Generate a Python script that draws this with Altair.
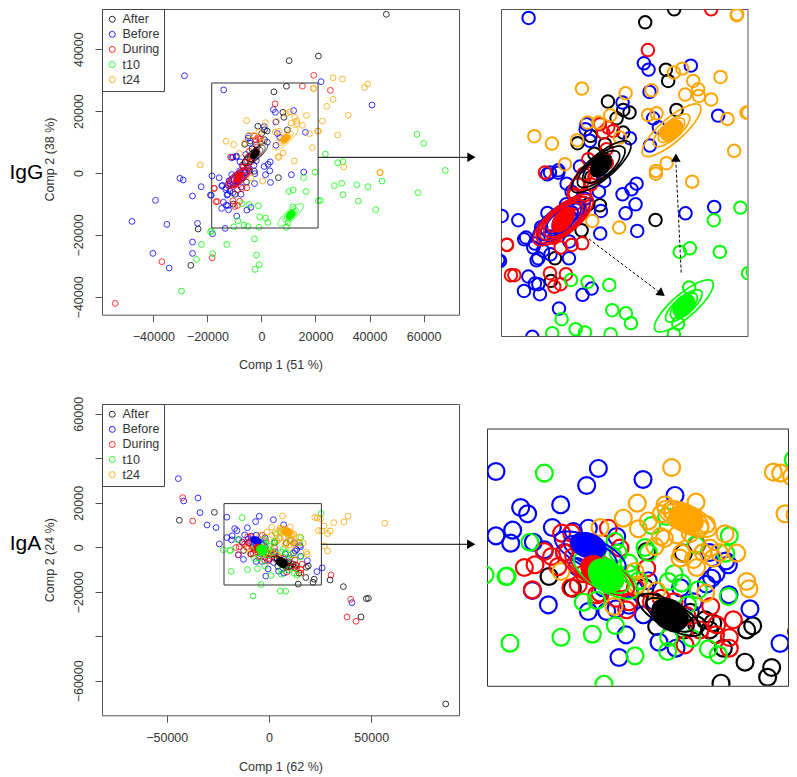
import numpy as np
import pandas as pd
import altair as alt

GROUPS = ["After", "Before", "During", "t10", "t24"]
COLORS = ["#000000", "#0000ff", "#ff0000", "#00ff00", "#ffa500"]

# ---------- IgG scores (Comp 1, Comp 2) ----------
igg_after_x = [9250,4620,7920,8290,9620,-1330,1110,2120,50,1110,-6180,-4100,-1800,6270,-2610,-5540,-9790,-10430,-4470,-6070,46210,21080,10240,-23420,-26130,-4000,-3000,-1800,-3500]
igg_after_y = [28040,26220,19590,18000,13940,15110,13940,13570,12770,10760,9270,10300,9130,-1490,566,-2940,-6860,-10030,706,3510,51250,37780,36280,-18090,-29830,4500,5500,7000,7800]
igg_before_x = [-14000,4410,5155,11910,5315,1005,5900,16270,6800,5370,-4740,-4900,-4210,2180,-9260,-10590,-5800,-18300,-15650,-14420,-14700,-18570,-12450,-12720,-13250,-7560,-14050,-12990,-12450,-14740,-12190,-5380,-3940,-9150,-13410,3240,2440,1000,3080,1490,3350,-2560,-2450,-2770,-1920,-7930,-7130,-11020,-9260,11060,15640,22060,40910,-47930,-39190,-34990,-30190,-28960,-22310,-25510,-23660,-25510,-40170,-25510,-34140,-18120,-18860,-28470,-12000,-10500,-9200,-7000,-6000,-11000,-8000,-13000,-11700,-10500,-5000,-7500]
igg_before_y = [26830,20480,19590,20150,16460,14970,12770,13140,11460,8940,11930,11230,9600,9970,5480,5160,6000,-930,-1530,-3960,-4200,-7230,-6860,-7140,-5360,-6860,-9430,-10410,-10500,-11440,-11900,-11990,-11110,-13910,-17880,3600,2810,2110,706,-555,-3030,-3400,-230,2480,3975,3600,2480,4910,5140,-555,332,29490,21950,-15620,-8830,-16590,-1720,-2260,-4420,-7430,-16260,-22300,-25960,-25960,-30700,-19600,-7110,31430,-2500,-3800,-2500,-1500,200,-500,700,-4800,-5800,-6300,1500,-4500]
igg_during_x = [15160,5050,-2610,-1280,-480,-2080,-11390,-4470,-1550,-5430,-7130,-8890,-17450,-16820,-16280,-10590,-8040,-8890,-9900,-6100,-6600,19350,25510,-54100,-36850,-18240,-17500,-11500,-10000,-9000,-7000,-6500,-5000,-4000,-5200,-3500,-1500]
igg_during_y = [28040,22340,11930,11460,11000,10760,5160,7030,8430,-4760,-4990,-5360,-4990,-9240,-9240,-8960,-9100,-10500,-10830,3500,2110,31540,26690,-42110,-28650,-27360,-4950,-3500,-4000,-3000,-600,800,2000,3500,5000,4500,6500]
igg_t10_x = [19840,15580,11750,10150,16540,21060,11650,-7240,-4580,-1120,-640,1540,2340,-8730,-6490,-5000,-10220,-910,9200,9890,57550,60000,68020,23660,28220,30190,44610,26990,29700,35250,39430,57910,30190,35860,21820,42270,-2580,-1840,-850,-2330,-29580,-24040,-22190,-18000,-12820,-18860,-18370]
igg_t10_y = [240,-1530,-5460,-5970,-5970,-8960,-10970,-9900,-10180,-10600,-14140,-14560,-15960,-15400,-16800,-17270,-17370,-17510,-17510,-16010,12480,9570,850,6120,3320,3640,-2600,-4090,-3340,-3770,-4420,-6350,-7000,-9050,-8830,-11850,-21320,-26500,-29620,-31130,-38130,-27900,-23050,-26060,-23050,-18950,-18740]
igg_t24_x = [19310,9200,10530,12290,16650,13080,5630,11010,13190,15160,1490,-5480,5100,6430,20800,17760,-960,-4580,-2880,-13090,-10270,-6230,580,18830,8030,6330,-8200,6330,12120,-3830,470,26500,29950,39310,38200,26500,24160,32160,22550,28220,30440,44000,43870,-22660,19230,21080]
igg_t24_y = [27340,19170,19730,18000,18560,16830,16690,16090,15900,15390,16270,16930,13240,13470,13570,12680,13190,12160,12160,10250,9220,9690,10060,8200,6470,5390,6330,5000,3880,-1630,-2560,30785,30350,28740,27660,23785,21520,18610,16790,12260,1920,200,107,2584,27230,13550]

# ---------- IgA scores (Comp 1, Comp 2) ----------
iga_after_x = [8430,2750,-12390,-8770,4300,18250,19180,17990,22120,21500,14270,14630,11790,10500,-43830,-26720,36370,47610,48590,44990,86410,29850,2500,7000,8500,9500,4000,12500,13000]
iga_after_y = [1920,2150,-1400,-3060,-8510,-8990,-8420,-13580,-14340,-15720,-16570,-11590,-7560,-8270,12130,15730,-17680,-23070,-22920,-31310,-70410,-14680,-3000,-8000,-9000,-6500,-5000,-9000,-8000]
iga_before_x = [-20610,-4740,-6550,2180,-10580,-16780,-15700,-18020,-20610,-18330,-14820,-11870,7140,-6290,-8620,-1900,-13110,-14970,-12490,-6290,-450,-1540,4660,7300,23420,26000,18760,15510,15410,12820,2230,-3450,-44320,-41710,-34700,-33730,-30300,-25900,-24270,40600,-10000,-8000,-4000,-2000,0,3000,5000,8000,10000,12000,13500,15000,12500]
iga_before_y = [13530,13960,11540,12390,8790,8410,7510,5190,4380,3340,3480,5570,10120,5470,5000,4290,2390,-3390,-5430,-6380,-9700,-12920,-10740,-11590,-10930,-9220,-5999,-4010,260,-1640,-6850,-6380,30860,20820,22170,15580,10040,8840,1500,-24870,2000,0,-3000,-6000,-5500,-2000,-6000,-3000,-5000,-2500,-1000,800,2000]
iga_during_x = [-3190,-10430,-8880,-13110,-11980,-1390,10500,-16210,-14970,-14560,16180,13600,15560,13440,15560,12670,8690,-7850,-4480,-350,2750,-42200,-37310,39950,38160,42560,30330,-11000,-10000,-7000,-9000,-5000,-2000,0,1000,3500,5000,7000,9000,11000]
iga_during_y = [5470,4760,4760,2150,1440,2630,3100,-120,-3300,260,-7560,-8270,-10080,-9700,-11590,-5670,-11120,-2590,-3770,-6140,-220,22320,11840,-23370,-31310,-33250,-12430,0,2000,-1000,-3000,-4000,-4500,-5000,-3000,-5000,-4500,-5000,-7000,-9000]
iga_t10_x = [-13110,-15340,3520,-2160,10340,15560,14990,5850,2490,-1650,25480,-19060,-22310,-18440,-10530,-5670,-7070,-2110,940,6160,6000,9720,12310,13860,-3870,15410,9100,6110,8170,10760,-7810,5560,8170,-18890,3000,0,-2500,-5000,0,1500,7000]
iga_t10_y = [13290,3480,5850,3580,3100,4380,1920,7130,2720,1920,15190,-1400,-1160,-10880,-10030,-9600,-5050,-8370,-12680,-10080,-12070,-10170,-11690,-12540,-16710,-4250,-5430,-2110,-2350,-3300,-21880,-19620,-19770,-1350,2000,500,1500,-4800,-1000,-2000,-1000]
iga_t24_x = [6620,1300,-870,1460,4920,5590,10400,22380,23520,25220,24190,25740,14890,-4480,4040,8170,16700,12570,-10530,18250,18610,-2320,940,1300,4300,11890,10500,7920,13080,31640,36690,38650,29850,28700,26910,27070,28700,56580,3000,5000,6500,7500,9500,11000,12000,5500,10000,11500,14000]
iga_t24_y = [14100,9030,6890,5380,4290,8790,9170,13440,13290,12820,7510,7370,4670,5570,2860,1920,1920,2630,-690,-2110,-3150,-5670,-690,-2590,-3440,-3770,-120,1210,1210,11085,11385,13930,7340,6140,9590,600,-1650,10790,6500,7500,8000,4500,4700,5500,6000,4000,1000,2000,2000]

# ---------- ellipses: group, centre x, centre y, half width, half height, correlation ----------
igg_rings = [
    ("Before", -8800, -1500, 4600, 3300, 0.74), ("Before", -8800, -1500, 3900, 2800, 0.72), ("Before", -8800, -1500, 3200, 2300, 0.70),
    ("Before", -8700, -1500, 2550, 1900, 0.65),
    ("During", -8460, -1500, 4790, 3600, 0.74), ("During", -8460, -1500, 4300, 3240, 0.72), ("During", -8460, -1500, 3730, 2800, 0.70),
    ("During", -8460, -1500, 3100, 2400, 0.65), ("During", -5800, 3700, 2000, 2200, 0.70),
    ("After", -2400, 5970, 4750, 3630, 0.80), ("After", -2400, 5970, 3800, 2900, 0.75), ("After", -2400, 5970, 2950, 2250, 0.68),
    ("t10", 10790, -13540, 4700, 3650, 0.82), ("t10", 10790, -13540, 2920, 2260, 0.75), ("t10", 10790, -13540, 2150, 1800, 0.65),
    ("t24", 8830, 11090, 4700, 3690, 0.82), ("t24", 8830, 11090, 2920, 2290, 0.75), ("t24", 8830, 11090, 2100, 1700, 0.65),
]
igg_cores = [
    ("Before", -8600, -1400, 1600, 1500, 0.5), ("During", -8460, -1450, 1750, 1700, 0.5), ("After", -2440, 6080, 1650, 1500, 0.4),
    ("t10", 10790, -13540, 1700, 1550, 0.35), ("t24", 8830, 11090, 1750, 1400, 0.4),
]
iga_rings = [
    ("After", 6360, -6850, 4960, 3000, -0.72), ("After", 6360, -6850, 3700, 2400, -0.65),
    ("Before", -6000, 2000, 5500, 3000, -0.65), ("Before", -6000, 2000, 4100, 2350, -0.6),
    ("During", -5000, -500, 5800, 3600, -0.72), ("During", -5000, -500, 4900, 3050, -0.7), ("During", -5000, -500, 4050, 2600, -0.65),
    ("t10", -3560, -1260, 5000, 3300, -0.68), ("t10", -3560, -1260, 3500, 2500, -0.55),
    ("t24", 8950, 6800, 4520, 2600, -0.6), ("t24", 8950, 6800, 3400, 2150, -0.5),
]
iga_cores = [
    ("Before", -6300, 3000, 2700, 1800, -0.25), ("During", -5000, -500, 2400, 2000, -0.25), ("After", 6360, -6850, 2750, 2250, -0.25),
    ("t10", -3560, -1260, 2650, 2300, -0.25), ("t24", 8950, 6800, 2500, 1950, -0.25),
]

igg_points = pd.concat([
    pd.DataFrame({"g": g, "x": xs, "y": ys}) for g, xs, ys in [
        ("After", igg_after_x, igg_after_y), ("Before", igg_before_x, igg_before_y), ("During", igg_during_x, igg_during_y),
        ("t10", igg_t10_x, igg_t10_y), ("t24", igg_t24_x, igg_t24_y)]], ignore_index=True)
iga_points = pd.concat([
    pd.DataFrame({"g": g, "x": xs, "y": ys}) for g, xs, ys in [
        ("After", iga_after_x, iga_after_y), ("Before", iga_before_x, iga_before_y), ("During", iga_during_x, iga_during_y),
        ("t10", iga_t10_x, iga_t10_y), ("t24", iga_t24_x, iga_t24_y)]], ignore_index=True)


def ellipse_table(rows):
    t = np.linspace(0, 2 * np.pi, 61)
    out = []
    for k, (g, cx, cy, sx, sy, r) in enumerate(rows):
        d = np.arccos(r)
        out.append(pd.DataFrame({"g": g, "ring": k, "i": np.arange(len(t)),
                                 "x": cx + sx * np.cos(t), "y": cy + sy * np.cos(t - d)}))
    return pd.concat(out, ignore_index=True)


FONT = "Liberation Sans"
INK = "#333333"
color_scale = alt.Scale(domain=GROUPS, range=COLORS)


def enc_xy(xdom, ydom, xaxis, yaxis):
    return dict(
        x=alt.X("x:Q", scale=alt.Scale(domain=xdom, nice=False, zero=False), axis=xaxis),
        y=alt.Y("y:Q", scale=alt.Scale(domain=ydom, nice=False, zero=False), axis=yaxis),
    )


def data_layers(points, rings, cores, xdom, ydom, xaxis, yaxis, size, pw, lw, clip, op, legend):
    e = enc_xy(xdom, ydom, xaxis, yaxis)
    col = alt.Color("g:N", scale=color_scale, legend=legend)
    col0 = alt.Color("g:N", scale=color_scale, legend=None)
    layers = [
        alt.Chart(points).mark_point(filled=False, size=size, strokeWidth=pw, opacity=op, clip=clip).encode(color=col, **e),
        alt.Chart(ellipse_table(rings)).mark_line(strokeWidth=lw, clip=clip).encode(
            color=col0, detail="ring:N", order="i:Q", **e),
    ]
    for row in cores:
        hexc = COLORS[GROUPS.index(row[0])]
        layers.append(alt.Chart(ellipse_table([row])).mark_line(strokeWidth=lw, fill=hexc, stroke=hexc, clip=clip).encode(
            order="i:Q", **e))
    return layers


def axes(xticks, yticks, xtitle, ytitle, title_y=None, hide=None, xpad=15):
    xa = alt.Axis(values=xticks, title=xtitle, format="d", grid=False, domain=False, tickSize=7, tickColor="#555555",
                  labelFont=FONT, labelFontSize=12.5, labelColor=INK, labelPadding=9, labelOverlap=False,
                  titleFont=FONT, titleFontSize=12.5, titleFontWeight="normal", titleColor=INK, titlePadding=xpad)
    kw = dict(values=yticks, title=ytitle, format="d", grid=False, domain=False, tickSize=7, tickColor="#555555",
              labelFont=FONT, labelFontSize=12.5, labelColor=INK, labelPadding=10, labelAngle=-90, labelAlign="center",
              labelBaseline="bottom", labelOverlap=False,
              titleFont=FONT, titleFontSize=12.5, titleFontWeight="normal", titleColor=INK, titlePadding=16)
    if title_y is not None:
        kw["titleY"] = title_y
    if hide:
        kw["labelExpr"] = hide
    return xa, alt.Axis(**kw)


def legend():
    return alt.Legend(orient="none", legendX=0, legendY=0, title=None, symbolType="circle", symbolSize=36,
                      symbolStrokeWidth=1, symbolOpacity=0.85, labelFont=FONT, labelFontSize=12.5, labelColor=INK,
                      strokeColor="#444444", fillColor="white", padding=4, rowPadding=2.1, labelOffset=4, symbolOffset=0)


def frame(x1, x2, y1, y2, xdom, ydom, xa, ya):
    e = enc_xy(xdom, ydom, xa, ya)
    d = pd.DataFrame({"x": [x1], "x2": [x2], "y": [y1], "y2": [y2]})
    return alt.Chart(d).mark_rect(fillOpacity=0, stroke="#333333", strokeWidth=1).encode(
        x2=alt.X2("x2:Q"), y2=alt.Y2("y2:Q"), **e)


def segment(x1, y1, x2, y2, xdom, ydom, xa, ya, dash=None):
    e = enc_xy(xdom, ydom, xa, ya)
    d = pd.DataFrame({"x": [x1], "x2": [x2], "y": [y1], "y2": [y2]})
    kw = {"strokeDash": dash} if dash else {}
    return alt.Chart(d).mark_rule(color="black", strokeWidth=1, **kw).encode(x2=alt.X2("x2:Q"), y2=alt.Y2("y2:Q"), **e)


def head(x, y, angle, xdom, ydom, xa, ya):
    e = enc_xy(xdom, ydom, xa, ya)
    d = pd.DataFrame({"x": [x], "y": [y]})
    return alt.Chart(d).mark_point(shape="triangle-up", angle=angle, size=90, filled=True, color="black", opacity=1).encode(**e)


def label(txt, x, y, xdom, ydom, xa, ya):
    e = enc_xy(xdom, ydom, xa, ya)
    d = pd.DataFrame({"x": [x], "y": [y], "t": [txt]})
    return alt.Chart(d).mark_text(align="left", baseline="middle", font=FONT, fontSize=21, color="black").encode(text="t:N", **e)


# ---------- IgG main ----------
X1 = [-59000, 73100]; Y1 = [-45760, 52970]
IN1X = [-18410, 20960]; IN1Y = [-17760, 29070]
xa1, ya1 = axes([-40000, -20000, 0, 20000, 40000, 60000], [-40000, -20000, 0, 20000, 40000],
                "Comp 1 (51 %)", "Comp 2 (38 %)", title_y=150)
p1 = alt.layer(
    *data_layers(igg_points, igg_rings, igg_cores, X1, Y1, xa1, ya1, 34, 1, 0.7, False, 0.8, legend()),
    frame(IN1X[0], IN1X[1], IN1Y[0], IN1Y[1], X1, Y1, xa1, ya1),
    segment(IN1X[1], 5070, 77700, 5070, X1, Y1, xa1, ya1),
    head(77700, 5070, 90, X1, Y1, xa1, ya1),
    label("IgG", -93270, 0, X1, Y1, xa1, ya1),
).properties(width=357, height=305.7, view=alt.ViewConfig(stroke="#555555"))

# ---------- IgA main ----------
X2 = [-81660, 92910]; Y2 = [-75500, 64400]
IN2X = [-22000, 25620]; IN2Y = [-16940, 19640]
xa2, ya2 = axes([-50000, 0, 50000], [-60000, -40000, -20000, 0, 20000, 40000, 60000], "Comp 1 (62 %)", "Comp 2 (24 %)",
                hide="abs(datum.value) == 40000 ? '' : datum.label", xpad=17)
p2 = alt.layer(
    *data_layers(iga_points, iga_rings, iga_cores, X2, Y2, xa2, ya2, 34, 1, 0.7, False, 0.8, legend()),
    frame(IN2X[0], IN2X[1], IN2Y[0], IN2Y[1], X2, Y2, xa2, ya2),
    segment(IN2X[1], 1350, 98870, 1350, X2, Y2, xa2, ya2),
    head(98870, 1350, 90, X2, Y2, xa2, ya2),
    label("IgA", -126800, 1350, X2, Y2, xa2, ya2),
).properties(width=357, height=311.3, view=alt.ViewConfig(stroke="#555555"))

# ---------- IgG zoom ----------
Z1X = IN1X; Z1Y = [-17760, 28090]
z1 = alt.layer(
    *data_layers(igg_points, igg_rings, igg_cores, Z1X, Z1Y, None, None, 156, 2, 1.7, True, 1, None),
    segment(-5010, -3730, 6960, -11670, Z1X, Z1Y, None, None, dash=[3, 2]),
    head(7230, -11810, 127, Z1X, Z1Y, None, None),
    segment(10370, -8870, 9520, 6700, Z1X, Z1Y, None, None, dash=[3, 2]),
    head(9520, 7260, 0, Z1X, Z1Y, None, None),
).properties(width=246.5, height=327, view=alt.ViewConfig(stroke="#555555"))

# ---------- IgA zoom (right edge ends at the page's usable width) ----------
Z2X = [-22000, 24655]
z2 = alt.layer(
    *data_layers(iga_points, iga_rings, iga_cores, Z2X, IN2Y, None, None, 285, 2.2, 2, True, 1, None),
).properties(width=301, height=257.3, view=alt.ViewConfig(stroke="#333333"))

spacer = alt.Chart(pd.DataFrame({"x": [0]})).mark_point(opacity=0).encode(
    x=alt.value(0)).properties(width=12.3, height=10, view=alt.ViewConfig(stroke="transparent"))

top_right = alt.hconcat(spacer, z1, spacing=0).resolve_scale(color="independent", x="independent", y="independent")
left = alt.vconcat(p1, p2, spacing=23).resolve_scale(color="independent", x="independent", y="independent")
right = alt.vconcat(top_right, z2, spacing=90.5).resolve_scale(color="independent", x="independent", y="independent")

chart = alt.hconcat(left, right, spacing=6).resolve_scale(color="independent", x="independent", y="independent").properties(
    padding=0, background="white")

chart.save("out.html", embed_options={"renderer": "svg", "actions": False})
